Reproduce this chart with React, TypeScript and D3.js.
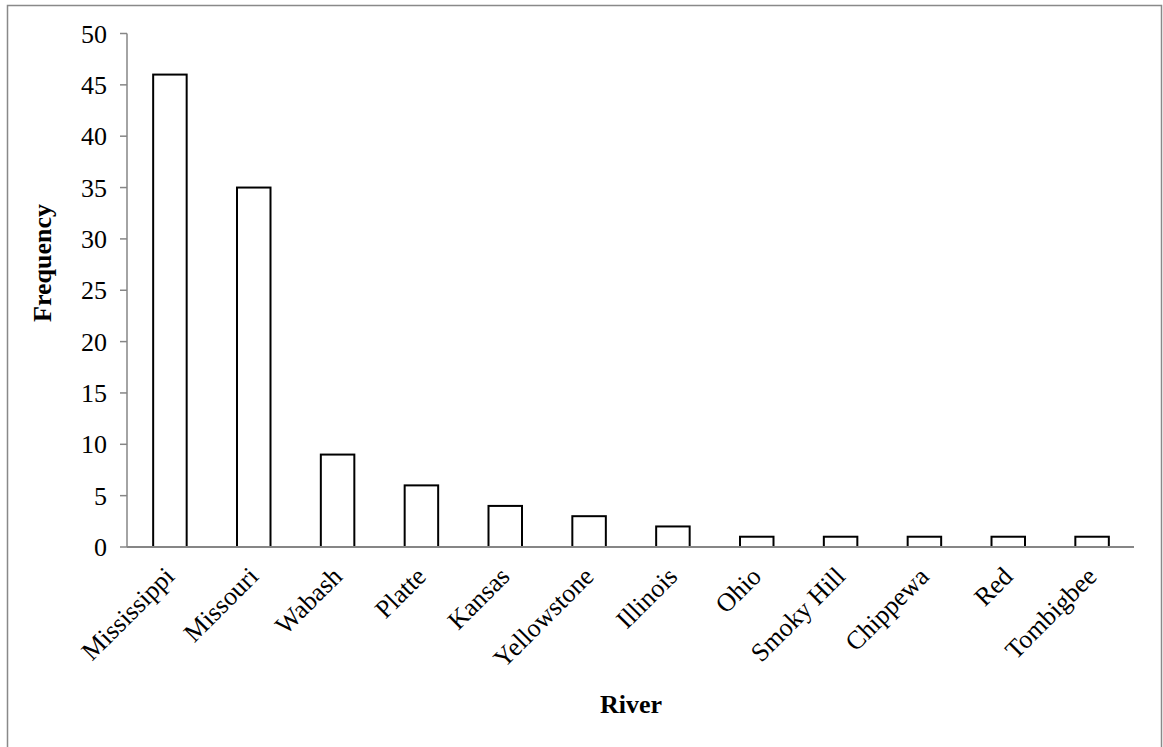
import React from "react";
import * as d3 from "d3";

const rivers = ["Mississippi", "Missouri", "Wabash", "Platte", "Kansas", "Yellowstone", "Illinois", "Ohio", "Smoky Hill", "Chippewa", "Red", "Tombigbee"];
const frequency = [46, 35, 9, 6, 4, 3, 2, 1, 1, 1, 1, 1];
const yTicks = [0, 5, 10, 15, 20, 25, 30, 35, 40, 45, 50];

const W = 1163;
const H = 747;
const left = 128;
const right = 1134;
const top = 33.5;
const bottom = 547;
const axisColor = "#868686";
const font = "'Liberation Serif', 'Times New Roman', serif";

export default function App() {
  const y = d3.scaleLinear().domain([0, 50]).range([bottom, top]);
  const band = d3.scaleBand<string>().domain(rivers).range([left, right]);

  return (
    <svg width={W} height={H} style={{ position: "absolute", left: 0, top: 0, background: "#fff" }}>
      <rect x={7.5} y={5.5} width={1154} height={780} fill="#fff" stroke="#898989" strokeWidth={1.5} />
      {/* bars */}
      {rivers.map((r, i) => {
        const cx = band(r)! + band.bandwidth() / 2;
        const bw = 33.5;
        return (
          <rect key={r} x={cx - bw / 2} y={y(frequency[i])} width={bw} height={bottom - y(frequency[i])}
            fill="#fff" stroke="#000" strokeWidth={2} />
        );
      })}
      {/* y axis */}
      <line x1={left - 1} x2={left - 1} y1={top} y2={bottom} stroke={axisColor} strokeWidth={1.5} />
      {yTicks.map((t) => (
        <g key={t}>
          <line x1={left - 8} x2={left - 1} y1={y(t)} y2={y(t)} stroke={axisColor} strokeWidth={1.5} />
          <text x={107} y={y(t)} dy="0.35em" textAnchor="end" fontFamily={font} fontSize={26} fill="#000">{t}</text>
        </g>
      ))}
      {/* x axis */}
      <line x1={left - 1} x2={right} y1={bottom} y2={bottom} stroke={axisColor} strokeWidth={2} />
      {rivers.map((r) => {
        const cx = band(r)! + band.bandwidth() / 2;
        return (
          <text key={r} transform={`translate(${cx + 6},${bottom + 31}) rotate(-45)`} textAnchor="end"
            fontFamily={font} fontSize={26} fill="#000">{r}</text>
        );
      })}
      <text transform={`translate(51,263) rotate(-90)`} textAnchor="middle" fontFamily={font} fontSize={26} fontWeight="bold" fill="#000">Frequency</text>
      <text x={631} y={713} textAnchor="middle" fontFamily={font} fontSize={26} fontWeight="bold" fill="#000">River</text>
    </svg>
  );
}
